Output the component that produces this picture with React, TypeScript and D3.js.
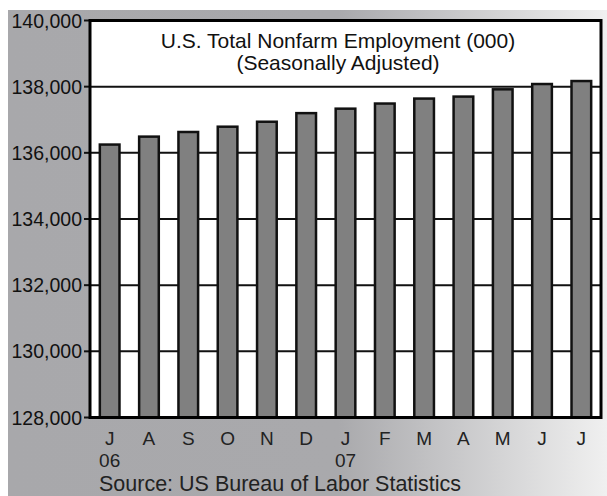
import React from "react";
import * as d3 from "d3";

const months = ["J", "A", "S", "O", "N", "D", "J", "F", "M", "A", "M", "J", "J"];
const years = ["06", "", "", "", "", "", "07", "", "", "", "", "", ""];
const employment = [136250, 136490, 136630, 136790, 136940, 137200, 137335, 137490, 137640, 137700, 137920, 138080, 138170];
const yTicks = [128000, 130000, 132000, 134000, 136000, 138000, 140000];
const titleLines = ["U.S. Total Nonfarm Employment (000)", "(Seasonally Adjusted)"];
const sourceText = "Source: US Bureau of Labor Statistics";

const W = 607;
const H = 496;
const plot = { left: 90, right: 601, top: 20.5, bottom: 417.5 };
const FONT = "'Liberation Sans', Arial, Helvetica, sans-serif";

export default function App() {
  const x = d3
    .scaleBand<number>()
    .domain(d3.range(months.length))
    .range([plot.left, plot.right])
    .paddingInner(0.5)
    .paddingOuter(0.25);
  const y = d3.scaleLinear().domain([128000, 140000]).range([plot.bottom, plot.top]);
  const fmt = d3.format(",");
  const titleX = 338;

  return (
    <svg
      width={W}
      height={H}
      style={{ position: "absolute", left: 0, top: 0, display: "block" }}
      fontFamily={FONT}
    >
      <defs>
        <linearGradient id="bg" x1="0" y1="0" x2="1" y2="0">
          <stop offset="0" stopColor="#a8a8ab" />
          <stop offset="0.55" stopColor="#a9a9ac" />
          <stop offset="1" stopColor="#f0f0f0" />
        </linearGradient>
      </defs>
      <rect x={8} y={10} width={W - 8} height={486} fill="url(#bg)" />
      <rect
        x={plot.left}
        y={plot.top}
        width={plot.right - plot.left}
        height={plot.bottom - plot.top}
        fill="#ffffff"
      />
      {yTicks.map((t) => (
        <g key={t}>
          {t !== 128000 && t !== 140000 && (
            <line x1={plot.left} x2={plot.right} y1={y(t)} y2={y(t)} stroke="#111" strokeWidth={2} />
          )}
          <line x1={84} x2={plot.left} y1={y(t)} y2={y(t)} stroke="#111" strokeWidth={2} />
          <text x={82} y={y(t)} dy="0.36em" textAnchor="end" fontSize={19.5} fill="#111">
            {fmt(t)}
          </text>
        </g>
      ))}
      {titleLines.map((l, i) => (
        <text key={i} x={titleX} y={48 + i * 22} textAnchor="middle" fontSize={21} fill="#111">
          {l}
        </text>
      ))}
      {employment.map((v, i) => (
        <rect
          key={i}
          x={x(i)}
          y={y(v)}
          width={x.bandwidth()}
          height={plot.bottom - y(v)}
          fill="#808080"
          stroke="#111"
          strokeWidth={2.5}
        />
      ))}
      <rect
        x={plot.left}
        y={plot.top}
        width={plot.right - plot.left}
        height={plot.bottom - plot.top}
        fill="none"
        stroke="#000"
        strokeWidth={3}
      />
      {months.map((m, i) => {
        const cx = (x(i) as number) + x.bandwidth() / 2;
        return (
          <text key={i} x={cx} y={445} textAnchor="middle" fontSize={19} fill="#222">
            {m}
          </text>
        );
      })}
      {years.map((yr, i) =>
        yr ? (
          <text
            key={i}
            x={(x(i) as number) + x.bandwidth() / 2}
            y={466.8}
            textAnchor="middle"
            fontSize={19}
            fill="#222"
          >
            {yr}
          </text>
        ) : null
      )}
      <text x={99} y={490.8} fontSize={21.5} fill="#222">
        {sourceText}
      </text>
    </svg>
  );
}
